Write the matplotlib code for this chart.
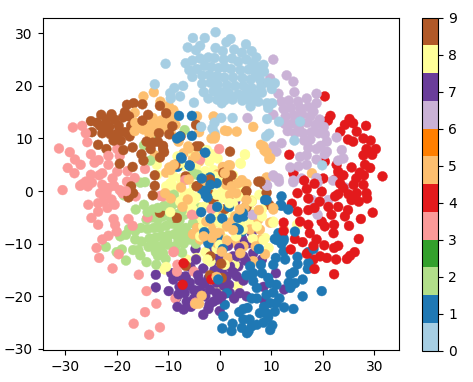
import matplotlib
matplotlib.use('Agg')
import matplotlib.pyplot as plt

digit0 = [(-0.8,30.2),(-5.2,29.1),(-2.9,29.1),(2.1,28.9),(1.3,28.3),(5.1,27.9),(-6.2,27.3),(-4.6,26.8),(-3.8,27.6),(-0.8,27.2),(0.6,26.6),(2.8,26.9),(4.3,26.3),(6.2,26.6),(7.1,25.4),
(-10.5,24.2),(-6.6,24.3),(-5.3,24.8),(-3.8,25.2),(-2.2,25.4),(-1,25.3),(0.8,25),(2.4,25.2),(3.6,24.6),(5.2,25),(6.4,24.2),(8.5,24),(7.4,23.6),
(-5.9,23),(-4.4,23.2),(-2.9,23.8),(-1.6,23.6),(-0.2,23.4),(1,23.5),(2.2,23.2),(4,23),(5.6,23.1),(7,22.4),(8.6,22.7),
(-5.3,21.7),(-3.4,22),(-2,22.1),(-0.5,21.9),(0.9,21.6),(2.6,21.6),(4.4,21.5),(6,21.2),(7.8,21.2),(9.4,20.6),(10.7,20.5),(10.1,19.4),
(-12.6,20.3),(-8.8,19.6),(-7.1,20),(-3.4,20.4),(-1.8,20.6),(-0.4,20.3),(1.4,20.1),(3,20),(4.6,20),(6.2,19.6),(8,19.8),
(-9.6,18.6),(-9.5,17.6),(-7.7,18),(-3.1,18.8),(-1.2,19),(0.2,18.8),(1.8,18.6),(3.6,18.4),(5.2,18.6),(7,18.4),(8.2,18.7),
(-5,16.8),(-2.2,17.6),(-0.5,17.4),(1,17.3),(2.5,17.4),(4.4,17.2),(5.8,17.3),(7.5,17),(9.2,16.7),(10.2,16.7),(0.4,16.7),(6,16.1),(9.4,15.8),
(2.5,13.9),(0.3,13.9),(9.2,13.7),(11.5,13.2),(15.6,13.2),(9.6,10.9),(9,10.4),(14.5,9.6),(19.9,4.9),(-1.4,11.9),(-1,13),(-3.6,12.2),(-1,11)]

digit1 = [(0.5,-26.1),(2.3,-26.6),(2.5,-25.2),(4.3,-26),(5.6,-26.6),(5.3,-27),(6.2,-25.7),(7.2,-25.4),(8.5,-25),(10.2,-25.5),(9.8,-26.4),(4.6,-24.4),(5.8,-24.4),(4.6,-22.4),(5.4,-22.2),(3.8,-23),
(7.8,-23.2),(9.1,-23.2),(10.7,-22.9),(12.5,-22.1),(14.3,-22.4),(9.4,-24),(16.1,-20),(19.8,-19),(11,-21.3),(9.8,-21.3),(8.6,-22),(7.2,-20.4),(9.1,-19.7),(10.4,-19.3),(11.6,-20.4),(6.2,-20.4),
(9.8,-17.5),(11,-17.8),(13.7,-18.4),(14.6,-17.5),(16.1,-16.8),(13.4,-17.4),(13.7,-15.8),(14.4,-15.4),(15.1,-13.9),(15.1,-12.5),(17.1,-14.8),(17.2,-13.7),(17.2,-11.6),(18.2,-11),
(12.7,-13),(12.4,-11.5),(10.9,-12.7),(10.4,-14),(12,-10),(10.7,-9.1),(11.4,-8),(12.4,-9),(6.5,-15.6),(6.5,-17.1),(8.2,-15.6),(9.4,-16.5),(1,-21.6),(0.7,-23.8),(1.4,-19.4),(7.2,-18.4),
(12,-1),(11.8,-2.6),(13.3,-3.5),(14.6,-7.7),(8.8,-1.7),(4.6,-4.8),(4.3,-7.7),(5.9,-14.3),(-7.9,14.3),(-5.4,14.3),(-7.7,10.4),(-8.3,10),(-5.4,10.5),(-2.9,7.4),(-7.5,6.4),(-5.9,4.9),(-8.2,4.6),(-1.9,2.6),
(-3.4,-0.4),(-2.7,0.2),(-2.4,-1.2),(-0.6,1.5),(-0.3,-16.8),(-0.4,-8.7),(-1.8,-5.2),(0.5,-5.2),(1.8,-3),(3.1,-7),(-3.6,-4),(-0.5,-3),(-2.2,-9.9),(-3.5,2.4),(0.6,-11),(-3,-7.8),
(-7.4,6.2),(-2.8,7.3),(-5.8,4.8),(-3.2,-0.4),(-1.8,1.2),(3.6,-5.1),(4.5,-4.2),(12,-2.8),(9.1,-1.7),(11.1,-9.3),(12.4,-9.4),(3.7,-7.3),(7.6,-11),(5.2,-16),(8,-14)]

digit2 = [(-22.1,-10.6),(-20,-11.6),(-19,-11.1),(-18.2,-13.2),(-14.2,-13.5),(-12.3,-14),(-10.5,-12.9),(-19.3,-8.6),(-18.2,-8.3),(-17.7,0),(-18.6,-0.8),(-15.4,1.6),(-16.3,-3.5),(-14.7,-2.6),(-13,-3.5),(-9.2,-2.6),(-7.9,-2.3),(-6.9,-4.5),(-5,-6.1),(-3.9,-8.3),(-8.6,-10.5),(-7.3,-11.7),(-9.2,-0.7),
(-12.8,11),(-14.7,8.7),(-13.5,5.8),(-6.8,11.6),(-14.5,1.7),(-5,3.2),(-4,3),
(-17.6,-7.2),(-16.4,-7.6),(-15.3,-7),(-16.4,-9.2),(-15.2,-9.6),(-15.8,-11.2),(-15.4,-12.2),(-16.8,-11.2),(-14.2,-5.4),(-13.1,-5),(-12,-5.4),(-11,-4.8),(-10,-4.4),(-8.6,-4.4),(-7.8,-5.6),
(-14,-7.2),(-12.8,-7),(-11.6,-7),(-10.4,-6.6),(-9.1,-6.2),(-8,-7.2),(-6.6,-7),(-13.6,-9),(-12.4,-8.8),(-11.2,-8.6),(-10,-8.4),(-8.8,-8.2),(-7.2,-8.6),(-13.8,-10.6),(-12.6,-10.4),(-11.4,-10.4),(-10,-10.2),
(-12.4,-11.6),(-11,-11.8),(-14,-4),(-12,-3.2),(-10.8,-2.8),(-7,-10),(-5.8,-9.2),(-4.6,-10),(-12,-12.3),
(-5.2,3.4),(-4.3,3.1),(-8.9,-0.7),(-5.2,-6.1),(-3.8,-3.2),(-9.6,-5),(-7.4,-3.8),(-6,-8),(-8,-9.4),(-10.2,-9.4)]

digit3 = [(-28.5,12.1),(-26.7,12.4),(-31.2,8.1),(-26,11),(-25.7,9.3),(-29.1,7.4),(-28.1,6),(-29.5,4.4),(-28.2,3.4),(-27,5),(-25,7),(-24.3,5.4),(-23.5,5.9),(-21.6,6.7),(-19.9,8),(-21.6,5),(-19.4,6.7),(-20.8,2.4),(-17.9,3.8),(-14.5,4.2),(-25,3.1),(-26.7,1.3),(-24.8,1.6),(-22.8,3.4),(-19.9,3.7),(-18,1.8),(-16.5,2.5),
(-30.5,0.2),(-27.1,1),(-25.5,-2.6),(-23.6,-2.3),(-23.6,-3.9),(-24.9,-5.1),(-23.6,-6.4),(-20.6,-5.3),(-20.3,-6.4),(-20,-7.7),(-21.6,-8.5),(-22.8,-9.2),(-23.9,-10.8),(-23.4,-12.7),(-20.8,-14.7),(-15.7,-15.9),(-14.2,-19),(-12.3,-21.4),(-14.5,-23),(-16.7,-25.2),(-11.6,-25.9),(-13.7,-27.3),(-17.7,-5.3),(-16.9,-6.6),(-19.6,-12),(-18.9,-0.4),(-16.3,-1),(-11.5,-0.9),(-14,-5),(-9,-11.6),(-8.2,-14),(-8.3,-15.3),(-5,-15.3),(-8.6,-20.4),(-4.7,-21.2),(-1.6,-3.4),(-5,-4.5),
(-22,-0.4),(-21,-1.6),(-23.2,-0.4),(-25.6,0.9),(-20.5,1),(-26,1.8),(-22.8,1.2),(-23.4,3),(-21.6,0.6),(-19.4,0.2),(-20.4,-2.6),(-18.2,0),(-22.6,-2),(-21.8,-3.2),(-3.8,6),(-4.8,-21.4),
(-0.1,8),(-6.7,2.1),(-11,-1),(-1.6,-3.4),(-5.4,-4.5),(-8.9,-11.5)]

digit4 = [(20.4,18),(21.5,14.3),(21,13.4),(25.2,13.7),(24.3,12.6),(25.9,12.9),(28.4,12.4),(23.4,11.3),(26.6,11.3),(25.9,9.4),(24.9,9.8),(27.9,10),(29.3,9.6),(30.3,8),(28.5,8),(29.6,6.9),(27.9,6.8),(28.2,5),(29.2,4.4),(25.6,4.5),(31.6,2.8),(22.7,5),(23,3.7),(13.5,6.9),(20.4,5.6),(20.1,2.4),(14.3,3.4),(27.2,3.5),(24,3),(22.4,2.2),(26.5,2.4),
(29.7,-4.1),(27.4,-5.3),(25.1,-6.6),(27,-9.1),(26.2,-11.6),(25.3,-12.3),(24.7,-12.9),(22.6,-13),(22.2,-15.8),(20.8,-12.7),(19.5,-12.4),(18.2,-13),(18.4,-14.8),(16.9,-11.9),(23,-10.4),(22.2,-10.8),(20.3,-10.3),(18.8,-9.2),(18.2,-10.4),(16.1,-9.7),(14.6,-9.1),(13.8,-11.1),(17.5,-8),(17.2,-6.4),(19.8,-5.8),(20.4,-6.7),(22.1,-8),(22.2,-6.4),(21.7,-4.5),(17.2,-3.6),(15.6,-5.8),(14,-2.4),(15.1,-3.9),(17.2,-1.4),(16.9,0.4),(15.1,-0.4),(19.8,-0.1),(21.1,-3),(24.3,-4.8),(24.9,-3.6),(25.6,-1.7),(26.6,-0.4),(28.5,-0.4),(27.9,1.2),(26,1.2),(24,0.6),(22.4,-1),(12.4,-6),(12.4,-7.6),
(-7.2,-17.8),(-1.6,-16.8),(-7,-13.7),(23,-0.6),(27,-2),(18.4,-3.2),(23,-3),(19.4,-2),(16.4,2),(18.4,1.4),(28,3),(25,-0.6),(23.4,1.4),(28.6,-1.4)]

digit5 = [(-12.8,18.8),(-14.8,18),(-11.5,17),(-9.9,16.2),(-9,15.4),(-16.5,14.9),(-14.8,11.7),(-13,13.9),(-11.4,13.4),(-9.5,13.9),(-8.6,12.6),(-4.4,14.2),(-1.2,14.2),(-4,11.2),(-1.6,10),(-6.1,8.5),(-7,7.2),(-12.6,6.8),(-9.8,4.5),(-10.4,3.5),(-5.2,6.2),(-4,5.6),
(-16.4,13),(-15.8,12),(-13.6,12.4),(-12.4,11.6),(-12,13),(-10.8,11.8),(-10.2,12.8),(-9.4,10.8),(-13.6,10.6),(-16.5,11.4),(-8,9.4),(-1,13.9),(-1,10),(1.5,11.4),(3.3,11.3),(6.5,12.2),(8,8.8),(8.7,7.7),(9.6,6.1),(2,4.9),(1.2,3.4),(4.3,2.1),(9.1,2.6),(17.9,3.4),(0.6,4.6),(-0.4,3.2),(5.2,1.4),(3,1.9),
(9.8,-6),(12.4,-7.3),(7.5,-5.4),(7.8,-7.3),(7.8,-9.2),(8.8,-12),(6.5,-13.3),(4.6,-10.5),(3,-9.9),(1.6,-12.7),(-1.9,-6.7),(0,-6),(-0.9,-16.5),(10.4,-3.5),(6.2,-2),(3.6,1.5),(1.3,1.2),(4.6,-1),(2,-0.7),(-0.3,-4.2),(2,-6),(0,-8),(-1.2,-8.6),(4,-11.8),(5.9,-7.3),
(-1.6,-7.3),(-3.8,-9.2),(-0.5,-9.9),(-3.5,-19.9),(-4.7,-21.4),(-4,-21.4),(-0.6,-16.3),(-3,-8.4),(-5.2,-8.2),(-4.4,-7),(-2.6,-5.8),(-6,2.2),(-7.5,0.7),(-2.8,2),(3,-4.8),(1.4,-9.4),(-9.5,-1.4),(-7.2,-3),(7,-10.5),(4.8,-3.2),(7.6,-3.6),
(8.5,8.5),(9.1,7.4),(9.8,6.3),(1.7,4.9),(1,3.4),(2.3,0.9),(3.2,-0.4),(5.2,-1.7),(-4.7,6.6),(-6,8.1),(-9.6,4),(-8.9,5),(-1.5,-8.9),(-0.5,-8),(1.4,-6.7),(2.6,-7.4),(3.9,-3.5),(-0.9,10.4),(1,11.5),(0.4,-11.5),(-3.1,-8.6),(10.4,-3.2),(-10.6,-0.4),(-6.2,-1.6)]

digit6 = [(10.4,25),(13,22),(14.3,20.8),(9.8,21.4),(8.2,20.5),(11.4,18.5),(14.5,18.8),(16.9,17.6),(18.8,18.5),(18.8,16.7),(18.2,15.1),(10.4,14.5),(5.4,13.9),(5.4,19.3),
(12,17),(13.4,17.2),(15.2,17),(12.4,15.6),(13.8,15.8),(15.6,15.8),(17.2,16),(12.8,14.2),(14.4,14.4),(16,14.6),(17.6,14.2),(19.4,13.6),(12.6,12.8),(14,12.8),(15.4,12),(17,13),(18.6,12.6),(20.2,12.2),(13.2,11.4),(14.6,11),(16.2,11),(17.8,11.2),(19.2,11),(20.4,10.8),(16.4,9.6),(17.6,9.8),
(22.7,10.2),(20.8,9.4),(20.8,7.5),(17.2,8.2),(10.4,8.5),(12,9.1),(11,7.5),(15.6,6.5),(16.9,6.8),(18.8,6),(23.7,7.8),(24,6.2),(23,5.8),(20.4,7),(13.7,4.5),(15.3,4.7),(16.9,5),(14.3,2),(15.9,2.4),(18.8,2.5),(22,2),(24.3,0.7),(17.9,-1.7),(21.1,-1.7),(19,-4.5),(6.5,-4.5),(9.2,1),(11.5,1.8),(14.3,1.7),(19,1.6),(11.4,2.4),(10.4,3),(19.6,8.6),(18.8,8),
(6.3,-4.5),(9.1,1.2),(10.7,2.6)]

digit7 = [(-12.4,-15.9),(-12.4,-18.3),(-9.9,-19),(-4.7,-11),(-3.2,-23.5),(-7,-22.5),(-8.4,-20.3),(-9.4,-15.6),(-9,-16.8),(-2.3,-11.4),(-1.3,-13.3),(-3.2,-14.7),(-5.7,-14.4),
(6.2,-7.9),(4.3,-9),(5.6,-9.9),(6.5,-11.8),(4.6,-12.4),(2.6,-12.4),(3.6,-14.3),(8.2,-13),(10.9,-15.6),(8.5,-18.2),(12.5,-18.7),(8.7,-20.8),(5.2,-20),(3.9,-19.4),(3.3,-16.2),(1.4,-16.2),(2,-14.3),(-1.9,-18.7),(-1.2,-21),(0,-22.8),(-0.6,-19.4),(3,-2),(0,-11.8),
(-7.8,-18.2),(-6.8,-19.4),(-5.8,-17.4),(-5,-18.8),(-4,-17),(-3.8,-18.8),(-2.8,-20),(-6.4,-21),(-5,-20.4),(-7.8,-16.2),(-6.6,-16.2),(-2.2,-16.6),(-1,-15),(0.4,-15),(-2,-21.6),(-5.6,-22),(-3,-17.6),(-0.6,-17.4),(0.8,-18),(2,-19.4),(1.8,-17.8),(-0.2,-13),(1,-13),(3.8,-10.8),(1.6,-10.4),(-4.6,-13),(2.8,-20.4),(-8.2,-22),(-0.4,-20.6),
(3.4,-12.4),(5,-13.2),(2.6,-15.4),(4.6,-17),(0.4,-20),(-8,-19.6),(-6.4,-18),(-4.2,-16),(-2.2,-22.4)]

digit8 = [(-12.2,5),(-12.2,3.1),(4.9,7),(4.1,5.2),(-1.2,7),(-1.2,4),(-10.7,-14.9),(-10.7,-2.9),(-10.4,0.9),(-9.4,1.5),(-7.5,-1.6),(-5.5,-2.2),(-6.8,-0.4),(-1.4,-5.4),(-0.8,-6),(-3.8,-7.2),(-6.4,-13),(-4.5,-12.7),(-0.3,-18.6),(0.1,-18.6),(3.5,-18),(2.9,-14),(0,-11.8),(-1.2,-9.2),(2.6,-9.6),(-1,-5.8),(2.6,-7.3),(0.7,-4),(2.6,-4.8),(1,-1.3),(3.6,0.6),(6.2,-1.7),(7.7,-0.7),(10.4,-5.8),(8.8,-8.9),(9.5,-10.8),(5.9,-6),(15,-6.4),
(-8.2,6.6),(-7,4.8),(-5.2,7.4),(-3.6,6.6),(-2,5.6),(-0.4,6.2),(-9,2.8),(-7.6,2.4),(-4.6,4.4),(-2.8,3.8),(-0.4,1.8),(1.2,2.4),(2.6,3),(-8.6,0.2),(-5,1),(-3.4,0.6),(-1.4,-0.4),(0.6,0.4),(2.6,-2.4),(-6.2,-3.6),(-4.2,-3),(-2.2,-2.6),(-0.4,-2),(-4.4,-5.2),(-3,-6),(1,-6.8),(0.8,-9),(-0.6,-11),(4,-6.2),(-2.8,-11.6),(-1.8,-13.4),(1,-14),(6.4,-4),(8.2,-4.8),(-1,2.8),(6.4,-9),
(-0.6,-0.7),(-0.3,-2.9),(-5.8,-0.4),(-7.7,0.9),(-9.6,1.5),(-7.7,-2),(-5.2,-3.5),(-3.2,-3),(-1.2,-4.2),(0,-6),(-3.2,-6.7),(-3.8,-8.6),(0,-10.2),(-7.7,5.3),(-2.5,7.8),(6.2,-2),(8.2,-3.5),(10.4,-6),(7.2,-6.7),(8.5,-9.3),(3.6,-1),(1.9,-2.3),(3.2,-8.6),(4.5,-7.3),(4.9,6.9),(4,5.3),(-10.4,-14.4),(-9.6,-4),(-4.6,-1.2),(-2.4,-13)]

digit9 = [(-25,13.3),(-24.8,11.2),(-23,14.5),(-18,16.4),(-16.7,16.7),(-15,16.5),(-23.6,8.8),(-22,8),(-23.2,12.4),(-22,13.6),(-21.4,12.2),(-20.4,13.6),(-19.6,12.4),(-18.8,14),(-17.6,14.2),(-22.8,11),(-21.2,10.8),(-19.8,11),(-18.4,11.2),(-17.2,12.4),(-16,12.8),(-20.6,9.6),(-19.2,9.6),(-17.5,10.4),(-18.4,15),(-23.8,13),(-21,14.6),(-20.2,10),(-22.4,12),
(-11.6,16.2),(-10.4,14.8),(-13.9,14.5),(-15,13.4),(-9.2,12.3),(-7.6,10.4),(-4.6,12.6),(-3.9,8.5),(-14.2,9.4),(-13,9.2),(-12,9.4),(-10.8,7.4),(-15.2,7),(-18.7,7.8),(-16.9,8.3),(-19.4,5.2),(-16.9,4.6),(-14.8,5.8),(-12.6,3),(-11,8.6),(-13.4,8),(-11.6,6.4),(-11.8,11),(-9.8,10.8),
(-17.2,0.9),(-12.6,1),(-13,-0.8),(-17.7,-1.2),(-16.8,-0.4),(-11.6,-4.1),(-8.8,-5),(-4.2,1),(-1.9,-16),(7.5,1.8),(8.6,1.2),(9.1,-0.3),(9.6,-2.6),(5.1,-0.2),(5.1,-3),(-1.2,-2),(0.4,-16.5),(0.3,-13.8),(-2,-0.6),(1.5,2),(1,-3.4),(-3.5,-3.4),(-6.6,2.8),(-1.8,-12.4),(-6.6,-14.2),
(-11,8),(-4.5,8.5),(2,7.5),(7.9,1.8),(0.7,3.5),(2.3,3),(5.2,0),(5.2,-3),(-4.5,0.9),(-8.6,5),(-1.9,2.2),(-8.3,-5.1)]

all_digits = [digit0, digit1, digit2, digit3, digit4, digit5, digit6, digit7, digit8, digit9]

plt.rcParams['font.size'] = 10
fig = plt.figure(figsize=(4.73, 3.82), dpi=100)
W, H = 473.0, 382.0
ax = fig.add_axes([42.5/W, 1-350/H, (399-42.5)/W, (350-18)/H])
xs, ys, cs = [], [], []
for i in range(max(len(d) for d in all_digits)):
    for label, d in enumerate(all_digits):
        if i < len(d):
            xs.append(d[i][0]); ys.append(d[i][1]); cs.append(label)
sc = ax.scatter(xs, ys, c=cs, cmap='Paired', s=50, linewidths=0.3, vmin=0, vmax=9)
ax.set_xlim(-34.4, 34.8)
ax.set_ylim(-30.2, 32.9)
ax.set_xticks([-30, -20, -10, 0, 10, 20, 30])
ax.set_yticks([-30, -20, -10, 0, 10, 20, 30])
cax = fig.add_axes([422/W, 1-350.5/H, 16.3/W, 332.8/H])
fig.colorbar(sc, cax=cax)
fig.savefig('out.png', dpi=100)
